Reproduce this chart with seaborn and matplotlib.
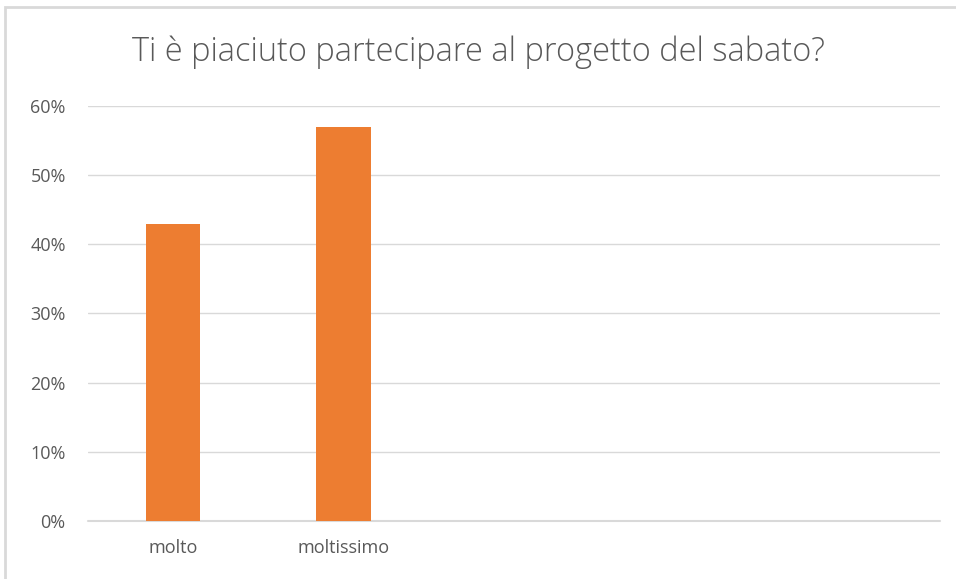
import matplotlib
matplotlib.use("Agg")
import matplotlib.pyplot as plt
import matplotlib.patches as mpatches
from matplotlib.ticker import PercentFormatter
import seaborn as sns
import pandas as pd

# ================= DATA =================
categories = ["molto", "moltissimo", "", " ", "  "]
answered = ["molto", "moltissimo"]
values = [0.43, 0.57]
title = "Ti è piaciuto partecipare al progetto del sabato?"

df = pd.DataFrame({"risposta": answered, "quota": values})

# ================= STYLE =================
sns.set_theme(style="white")
plt.rcParams["font.family"] = ["Open Sans", "DejaVu Sans"]
TEXT = "#595959"
GRID = "#d9d9d9"
BAR = "#ed7d31"

fig = plt.figure(figsize=(9.56, 5.79), dpi=100)
ax = fig.add_axes([0.092, 0.1002, 0.891, 0.7167])

sns.barplot(data=df, x="risposta", y="quota", order=categories, color=BAR,
            width=0.32, saturation=1, linewidth=0, ax=ax)

ax.set_ylim(0, 0.6)
ax.set_yticks([0, 0.1, 0.2, 0.3, 0.4, 0.5, 0.6])
ax.yaxis.set_major_formatter(PercentFormatter(1.0, decimals=0))
ax.grid(axis="y", color=GRID, linewidth=1)
ax.axhline(0, color=GRID, linewidth=1.5, clip_on=False, zorder=0.5)
ax.set_axisbelow(True)
for s in ax.spines.values():
    s.set_visible(False)
ax.tick_params(axis="both", length=0, labelsize=13, colors=TEXT)
ax.tick_params(axis="y", pad=16)
ax.tick_params(axis="x", pad=13)
ax.set_xlabel("")
ax.set_ylabel("")

fig.text(0.5, 0.91, title, ha="center", va="center", fontsize=23.5,
         color=TEXT, fontweight="light")

# outer chart border (left and top visible)
fig.patches.append(mpatches.Rectangle((5 / 956, -0.1), 1.2, (579 - 7) / 579 + 0.1,
                                      transform=fig.transFigure, fill=False,
                                      edgecolor="#d9d9d9", linewidth=2))

fig.savefig("out.png", dpi=100)
